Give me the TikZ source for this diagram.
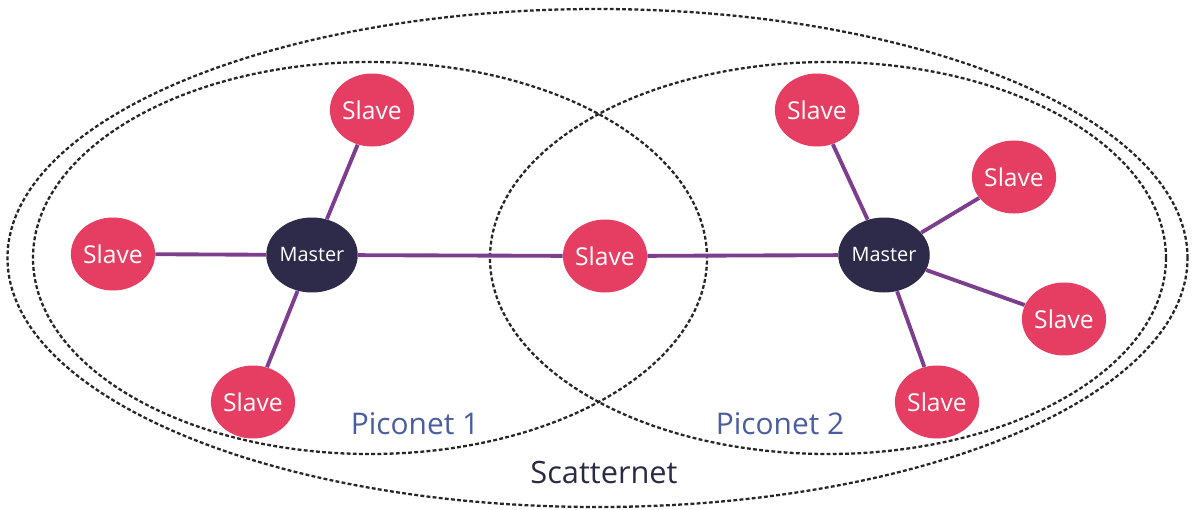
\documentclass[tikz,border=0pt]{standalone}
\usepackage{fontspec}
\setmainfont{Open Sans}
\usetikzlibrary{shapes.geometric}
\definecolor{slavered}{HTML}{E63E62}
\definecolor{masterblue}{HTML}{2E2A4A}
\definecolor{linkpurple}{HTML}{7D3E8E}
\definecolor{picoblue}{HTML}{4A5DA0}
\definecolor{scattertext}{HTML}{2B2A45}
\tikzset{
	slave/.style={ellipse,fill=slavered,minimum width=1.58cm,minimum height=1.46cm,inner sep=0pt,
		text=white,font=\fontsize{14}{16}\selectfont},
	master/.style={ellipse,fill=masterblue,minimum width=1.62cm,minimum height=1.5cm,inner sep=0pt,
		text=white,font=\fontsize{11.3}{13}\selectfont},
	link/.style={linkpurple,line width=2.2pt},
	netline/.style={black!85,line width=1.3pt,dash pattern=on 2.2pt off 1.3pt},
}
\begin{document}
\begin{tikzpicture}
		\useasboundingbox (0,0) rectangle (23.9,10.18);
		%
		\draw[netline] (11.95,5.02) ellipse [x radius=11.8cm,y radius=4.98cm];
		\draw[netline] (7.40,5.02) ellipse [x radius=6.74cm,y radius=3.92cm];
		\draw[netline] (16.56,5.02) ellipse [x radius=6.76cm,y radius=3.92cm];
		%
		\node[master] (m1) at (6.24,5.08) {Master};
		\node[master] (m2) at (17.68,5.08) {Master};
		%
		\node[slave] (s1) at (7.44,7.98) {Slave};
		\node[slave] (s2) at (2.26,5.10) {Slave};
		\node[slave] (s3) at (5.06,2.14) {Slave};
		\node[slave] (s4) at (12.10,5.06) {Slave};
		\node[slave] (s5) at (16.34,7.98) {Slave};
		\node[slave] (s6) at (20.28,6.64) {Slave};
		\node[slave] (s7) at (21.28,3.80) {Slave};
		\node[slave] (s8) at (18.74,2.14) {Slave};
		%
		\node[text=picoblue,font=\fontsize{17}{19}\selectfont] (p1) at (8.30,1.70) {Piconet 1};
		\node[text=picoblue,font=\fontsize{17}{19}\selectfont] (p2) at (15.60,1.70) {Piconet 2};
		\node[text=scattertext,font=\fontsize{17.5}{19}\selectfont] (sc) at (12.08,0.72) {Scatternet};
		%
		\draw[link] (m1) -- (s1);
		\draw[link] (m1) -- (s2);
		\draw[link] (m1) -- (s3);
		\draw[link] (m1) -- (s4);
		\draw[link] (s4) -- (m2);
		\draw[link] (m2) -- (s5);
		\draw[link] (m2) -- (s6);
		\draw[link] (m2) -- (s7);
		\draw[link] (m2) -- (s8);
\end{tikzpicture}
\end{document}
